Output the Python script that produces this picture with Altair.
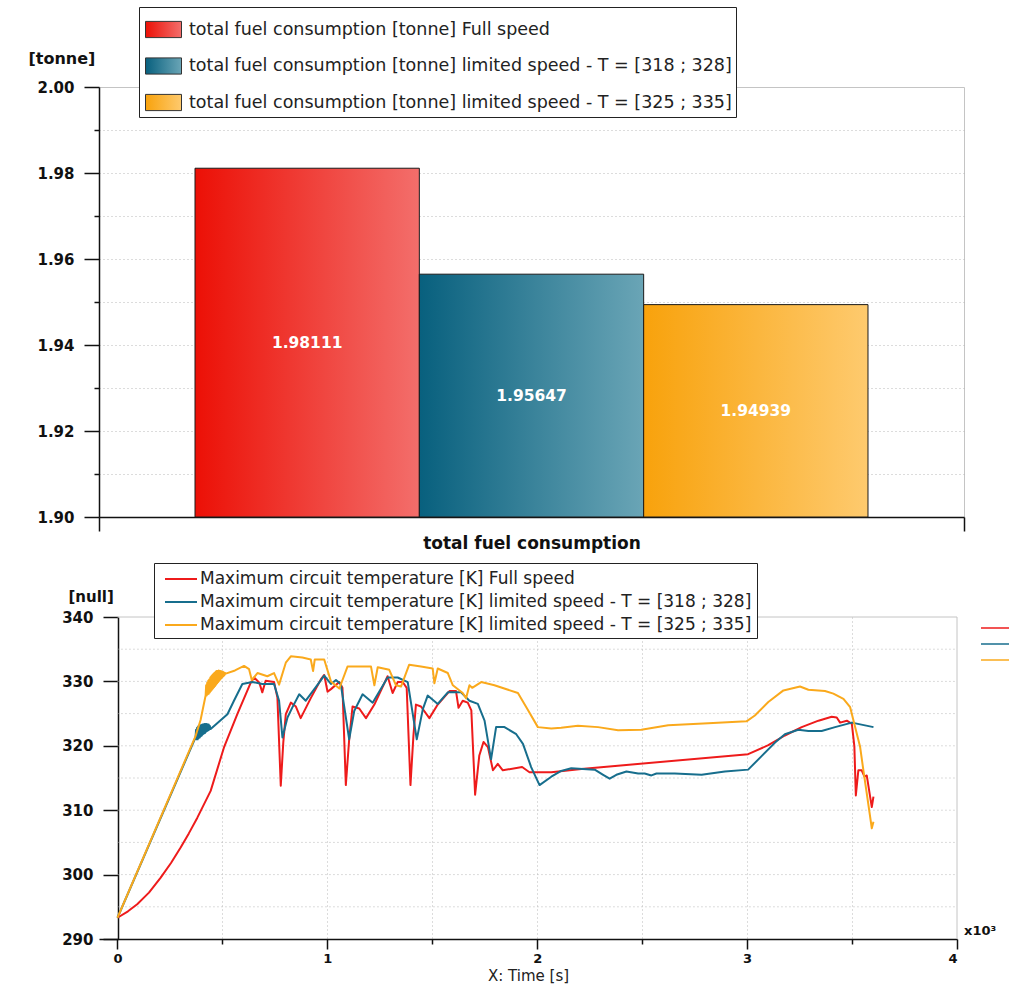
import altair as alt
import pandas as pd

# ---------------- bar chart data ----------------
bar_category = "total fuel consumption"
bar_series = [
    "total fuel consumption [tonne] Full speed",
    "total fuel consumption [tonne] limited speed - T = [318 ; 328]",
    "total fuel consumption [tonne] limited speed - T = [325 ; 335]",
]
bar_values = [1.98111, 1.95647, 1.94939]
bar_labels = ["1.98111", "1.95647", "1.94939"]
bar_color_left = ["#EC1006", "#08607E", "#F8A20C"]
bar_color_right = ["#F36E6B", "#6AA5B6", "#FECA6E"]
bar_y_ticks = [1.90, 1.905, 1.91, 1.915, 1.92, 1.925, 1.93, 1.935, 1.94, 1.945, 1.95,
               1.955, 1.96, 1.965, 1.97, 1.975, 1.98, 1.985, 1.99, 1.995, 2.00]

# ---------------- line chart data ----------------
line_series = [
    "Maximum circuit temperature [K] Full speed",
    "Maximum circuit temperature [K] limited speed - T = [318 ; 328]",
    "Maximum circuit temperature [K] limited speed - T = [325 ; 335]",
]
line_colors = ["#EE1B1B", "#176E8D", "#FAA91C"]

full_t = [0, 50, 94, 150, 205, 255, 301, 340, 380, 444, 507, 571, 635, 651, 676, 690, 706, 746,
          762, 778, 790, 802, 826, 850, 873, 921, 969, 985, 1001, 1017, 1057, 1072, 1088, 1104,
          1120, 1152, 1184, 1224, 1287, 1311, 1335, 1359, 1378, 1396, 1410, 1422, 1446, 1486, 1526,
          1582, 1613, 1625, 1645, 1669, 1686, 1704, 1724, 1744, 1765, 1789, 1812, 1836, 1928, 1963,
          2067, 2210, 3005, 3101, 3180, 3260, 3340, 3403, 3427, 3443, 3475, 3499, 3511, 3518, 3530,
          3546, 3559, 3570, 3586, 3594, 3602]
full_T = [293.3, 294.3, 295.4, 297.2, 299.5, 301.8, 304.2, 306.4, 308.8, 313.0, 319.7, 324.9, 329.8,
          330.6, 329.8, 328.3, 330.1, 329.9, 327.5, 313.8, 320.5, 324.9, 326.7, 326.1, 324.3, 327.4,
          330.3, 331.0, 328.4, 328.8, 329.9, 329.0, 313.9, 321.0, 326.1, 325.8, 324.3, 326.4, 330.8,
          328.2, 329.9, 329.9, 329.0, 313.9, 321.5, 326.4, 326.1, 324.3, 326.4, 328.5, 328.5, 325.9,
          327.0, 326.7, 325.5, 312.4, 318.5, 320.6, 319.8, 316.2, 317.2, 316.2, 316.7, 315.9, 315.9,
          316.4, 318.7, 320.1, 321.6, 322.9, 323.9, 324.5, 324.4, 323.6, 323.9, 323.4, 319.9, 312.3,
          316.2, 316.2, 315.2, 315.4, 312.1, 310.5, 312.1]

lim1_t = [0, 372, 374.5, 377, 379.5, 382, 384.5, 387, 389.5, 392, 394.5, 397, 399.5, 402, 404.5,
          407, 409.5, 412, 414.5, 417, 419.5, 422, 424.5, 427, 429.5, 432, 434.5, 437, 439.5, 444,
          524, 555, 595, 643, 690, 746, 770, 786, 810, 834, 866, 897, 945, 985, 1017, 1041, 1064,
          1104, 1128, 1168, 1216, 1287, 1335, 1383, 1426, 1455, 1478, 1526, 1574, 1637, 1677, 1717,
          1749, 1780, 1804, 1844, 1900, 1932, 1971, 2011, 2067, 2114, 2162, 2274, 2314, 2345, 2377,
          2425, 2481, 2512, 2544, 2568, 2655, 2783, 2894, 3005, 3069, 3133, 3180, 3244, 3292, 3355,
          3419, 3499, 3602]
lim1_T = [293.3, 321.3, 322.5, 321.0, 322.8, 321.0, 323.0, 321.2, 323.1, 321.3, 323.2, 321.5, 323.2,
          321.6, 323.3, 321.8, 323.3, 321.9, 323.4, 322.0, 323.4, 322.2, 323.4, 322.3, 323.3, 322.4,
          323.3, 322.5, 323.1, 322.6,
          324.9, 327.0, 329.6, 329.9, 329.6, 329.6, 327.0, 321.3, 324.4, 326.0, 328.0, 327.0, 329.1,
          330.9, 329.6, 330.2, 329.6, 321.0, 325.4, 328.0, 326.7, 330.6, 330.6, 329.9, 321.0, 325.7,
          327.8, 326.5, 328.3, 328.3, 327.0, 326.5, 323.9, 317.9, 322.9, 322.9, 321.8, 320.3, 316.7,
          313.9, 315.2, 316.1, 316.5, 316.3, 315.5, 314.9, 315.5, 316.0, 315.7, 315.7, 315.4, 315.7,
          315.7, 315.5, 316.0, 316.3, 318.4, 320.5, 321.8, 322.5, 322.3, 322.3, 322.9, 323.6, 322.9]

lim2_t = [0, 372, 396, 420, 422.5, 425, 427.5, 430, 432.5, 435, 437.5, 440, 442.5, 445, 447.5, 450,
          452.5, 455, 457.5, 460, 462.5, 465, 467.5, 470, 472.5, 475, 477.5, 480, 482.5, 485, 487.5,
          490, 492.5, 495, 497.5, 500, 502.5, 505, 507.5, 510, 512.5, 516,
          560, 603, 627, 640, 667, 714, 746, 770, 802, 826, 881, 921, 932, 940, 985, 1017, 1057,
          1096, 1160, 1208, 1224, 1240, 1295, 1327, 1351, 1390, 1446, 1502, 1510, 1526, 1574, 1598,
          1645, 1661, 1677, 1690, 1733, 1796, 1908, 1955, 2003, 2067, 2114, 2194, 2290, 2385, 2496,
          2624, 2815, 2997, 3037, 3101, 3173, 3252, 3292, 3371, 3411, 3459, 3491, 3507, 3538, 3554,
          3570, 3586, 3594, 3602]
lim2_T = [293.3, 321.5, 324.0, 327.8, 329.4, 327.8, 329.8, 328.0, 330.1, 328.1, 330.3, 328.3, 330.6,
          328.5, 330.8, 328.7, 331.0, 328.9, 331.2, 329.1, 331.3, 329.3, 331.5, 329.5, 331.6, 329.7,
          331.6, 329.9, 331.7, 330.1, 331.6, 330.3, 331.6, 330.5, 331.5, 330.7, 331.5, 330.8, 331.4,
          331.0, 331.3, 331.2,
          331.7, 332.4, 331.9, 330.2, 331.3, 330.8, 331.3, 329.5, 332.9, 333.9, 333.7, 333.4, 331.6,
          333.4, 333.4, 330.0, 328.9, 332.3, 332.3, 332.3, 329.4, 332.2, 331.8, 329.4, 329.2, 332.6,
          332.3, 332.0, 329.7, 332.0, 331.3, 329.4, 328.2, 327.4, 329.4, 329.0, 329.9, 329.4, 328.2,
          325.6, 322.9, 322.7, 322.8, 323.1, 322.9, 322.4, 322.5, 323.2, 323.5, 323.8, 324.7, 326.8,
          328.6, 329.2, 328.7, 328.5, 328.1, 327.3, 326.0, 323.9, 319.9, 316.2, 312.6, 309.0, 307.2,
          308.2]

x_tick_values = [0, 500, 1000, 1500, 2000, 2500, 3000, 3500, 4000]
y_tick_values = [290, 295, 300, 305, 310, 315, 320, 325, 330, 335, 340]
y_grid_values = [295, 300, 305, 310, 315, 320, 325, 330, 335]

assert len(full_t) == len(full_T)
assert len(lim1_t) == len(lim1_T)
assert len(lim2_t) == len(lim2_T)

# ---------------- tables ----------------
bar_df = pd.DataFrame({
    "category": [bar_category] * 3,
    "fuel_series": bar_series,
    "value": bar_values,
    "label": bar_labels,
})

rows = []
for name, ts, vs in zip(line_series, [full_t, lim1_t, lim2_t], [full_T, lim1_T, lim2_T]):
    for i, (t, v) in enumerate(zip(ts, vs)):
        rows.append({"temp_series": name, "time": t, "temp": v, "order": i})
line_df = pd.DataFrame(rows)

FONT = "DejaVu Sans"


def grad_expr(c1, c2):
    return ("{gradient: 'linear', x1: 0, y1: 0, x2: 1, y2: 0, stops: [{offset: 0, color: '%s'}, "
            "{offset: 1, color: '%s'}]}" % (c1, c2))


bar_range = [alt.ExprRef(expr=grad_expr(a, b)) for a, b in zip(bar_color_left, bar_color_right)]

# ---------------- top: bar chart ----------------
major_test = "abs(datum.value*50 - round(datum.value*50)) < 0.001"
grid_test = ("abs(datum.value*100 - round(datum.value*100)) < 0.001 && datum.value > 1.901 "
             "&& datum.value < 1.999")

x_bar = alt.X(
    "category:N",
    scale=alt.Scale(paddingInner=0, paddingOuter=0),
    axis=alt.Axis(
        title=None, labelAngle=0, labelFont=FONT, labelFontWeight="bold", labelFontSize=17,
        labelColor="#111", labelLimit=0, tickBand="extent", tickSize=14, tickColor="#111",
        tickWidth=1.5, domainColor="#111", domainWidth=1.5, labelPadding=4,
    ),
)
xoff_bar = alt.XOffset(
    "fuel_series:N", sort=bar_series,
    scale=alt.Scale(domain=bar_series, paddingOuter=0.428, paddingInner=0),
)
y_bar = alt.Y(
    "value:Q",
    scale=alt.Scale(domain=[1.90, 2.00], nice=False, zero=False),
    axis=alt.Axis(
        values=bar_y_ticks,
        labelExpr=major_test + " ? format(datum.value, '.2f') : ''",
        labelFont=FONT, labelFontWeight="bold", labelFontSize=15, labelColor="#111",
        tickSize={"condition": {"test": major_test, "value": 15}, "value": 5},
        tickColor="#111", tickWidth=1.5, domainColor="#111", domainWidth=1.5, labelPadding=10,
        grid=True, gridDash=[1, 3], gridColor="#b8b8b8",
        gridOpacity={"condition": {"test": grid_test, "value": 1}, "value": 0},
        title="[tonne]", titleAngle=0, titleAlign="left", titleBaseline="middle",
        titleX=-71, titleY=-29, titleFont=FONT, titleFontWeight="bold", titleFontSize=16,
        titleColor="#111",
    ),
)

bars = alt.Chart(bar_df).mark_bar(stroke="#1a1a1a", strokeWidth=1).encode(
    x=x_bar, xOffset=xoff_bar, y=y_bar, y2=alt.datum(1.90),
    color=alt.Color(
        "fuel_series:N",
        scale=alt.Scale(domain=bar_series, range=bar_range),
        legend=alt.Legend(
            title=None, orient="none", legendX=40, legendY=-80, direction="vertical",
            strokeColor="#222", fillColor="white", padding=4,
            symbolType="M-1,-0.45H1V0.45H-1Z", symbolSize=1296, symbolOffset=2,
            symbolStrokeColor="#333", symbolStrokeWidth=1,
            labelFont=FONT, labelFontSize=17.5, labelColor="#222", labelOffset=7,
            labelLimit=0, rowPadding=7.5,
        ),
    ),
)

bar_text = alt.Chart(bar_df).transform_calculate(mid="(datum.value + 1.9) / 2").mark_text(
    color="white", font=FONT, fontWeight="bold", fontSize=15.5
).encode(x=x_bar, xOffset=xoff_bar, y=alt.Y("mid:Q"), text="label:N")

top = alt.layer(bars, bar_text).properties(
    width=865, height=430,
    view=alt.ViewBackground(stroke="#c4c4c4", strokeWidth=1),
)

# ---------------- bottom: line chart ----------------
x_line_scale = alt.Scale(domain=[-88, 4000], nice=False, zero=False)
y_line_scale = alt.Scale(domain=[290, 340], nice=False, zero=False)

grid_df = pd.DataFrame({"g": y_grid_values})
grid_rules = alt.Chart(grid_df).mark_rule(color="#b8b8b8", strokeDash=[1, 3], strokeWidth=1).encode(
    x=alt.datum(0, scale=x_line_scale), x2=alt.datum(4000),
    y=alt.Y("g:Q", scale=y_line_scale),
)
frame_top = alt.Chart(pd.DataFrame({"g": [340]})).mark_rule(color="#c4c4c4", strokeWidth=1).encode(
    x=alt.datum(0), x2=alt.datum(4000), y="g:Q",
)
frame_right = alt.Chart(pd.DataFrame({"t": [4000]})).mark_rule(color="#c4c4c4", strokeWidth=1).encode(
    x="t:Q", y=alt.datum(290), y2=alt.datum(340),
)

lines = alt.Chart(line_df).mark_line(strokeWidth=2, strokeJoin="round").encode(
    x=alt.X(
        "time:Q", scale=x_line_scale,
        axis=alt.Axis(
            values=x_tick_values,
            labelExpr="datum.value % 1000 === 0 ? format(datum.value / 1000, 'd') : ''",
            labelFont=FONT, labelFontWeight="bold", labelFontSize=13, labelColor="#111",
            tickSize={"condition": {"test": "datum.value % 1000 === 0", "value": 10}, "value": 5},
            tickColor="#111", tickWidth=1.5, domainColor="#111", domainWidth=1.5, labelPadding=3,
            grid=True, gridDash=[1, 3], gridColor="#b8b8b8",
            gridOpacity={"condition": {"test": "datum.value > 0 && datum.value < 4000", "value": 1},
                         "value": 0},
            title="X: Time [s]", titleFont=FONT, titleFontSize=15, titleFontWeight="normal",
            titleColor="#222", titlePadding=3,
        ),
    ),
    y=alt.Y(
        "temp:Q", scale=y_line_scale,
        axis=alt.Axis(
            values=y_tick_values, offset=-19,
            labelExpr="datum.value % 10 === 0 ? datum.label : ''",
            labelFont=FONT, labelFontWeight="bold", labelFontSize=15, labelColor="#111",
            tickSize={"condition": {"test": "datum.value % 10 === 0", "value": 15}, "value": 8},
            tickColor="#111", tickWidth=1.5, domainColor="#111", domainWidth=1.5, labelPadding=10,
            grid=False,
            title="[null]", titleAngle=0, titleAlign="left", titleBaseline="middle",
            titleX=-50, titleY=-21, titleFont=FONT, titleFontWeight="bold", titleFontSize=15,
            titleColor="#111",
        ),
    ),
    color=alt.Color(
        "temp_series:N",
        scale=alt.Scale(domain=line_series, range=line_colors),
        legend=alt.Legend(
            title=None, orient="none", legendX=55, legendY=-54, direction="vertical",
            strokeColor="#222", fillColor="white", padding=5,
            symbolType="M-1.6,0H1.6", symbolSize=400, symbolOffset=11, symbolStrokeWidth=2,
            labelFont=FONT, labelFontSize=17, labelColor="#222", labelOffset=8,
            labelLimit=0, rowPadding=4,
        ),
    ),
    order="order:Q",
)

exp_text = alt.Chart(pd.DataFrame({"t": [4000], "v": [290]})).mark_text(
    text="x10³", align="left", baseline="middle", dx=7, dy=-8,
    font=FONT, fontWeight="bold", fontSize=13, color="#111",
).encode(x="t:Q", y="v:Q")

stubs = []
for i, c in enumerate(line_colors):
    stubs.append(
        alt.Chart(pd.DataFrame({"k": [i]})).mark_rule(color=c, strokeWidth=2, opacity=0.75).encode(
            x=alt.value(882), x2=alt.value(910), y=alt.value(11 + 16 * i)
        )
    )

bottom = alt.layer(grid_rules, frame_top, frame_right, lines, exp_text, *stubs).properties(
    width=858, height=322,
    view=alt.ViewBackground(stroke="transparent"),
)

chart = alt.vconcat(
    top, bottom, spacing=100, bounds="flush",
    padding={"left": 27, "top": 6, "right": 0, "bottom": 0},
).resolve_scale(color="independent", x="independent", y="independent").configure(
    background="white"
)

chart.save("out.html", embed_options={"renderer": "svg", "actions": False})
